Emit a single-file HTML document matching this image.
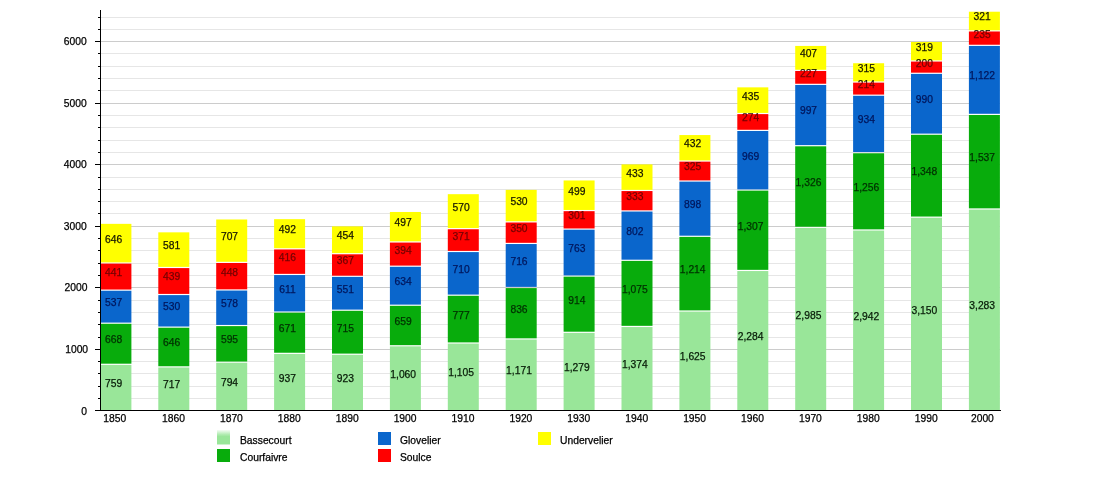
<!DOCTYPE html>
<html><head><meta charset="utf-8"><title>Population</title>
<style>
html,body{margin:0;padding:0;background:#fff;}
body{width:1100px;height:500px;overflow:hidden;}
svg{display:block;will-change:transform;}
text{font-family:"Liberation Sans",sans-serif;font-size:10.3px;fill:#000;stroke:#000;stroke-width:0.25px;}
.v text{fill:inherit;stroke:inherit;}
</style></head><body>
<svg width="1100" height="500" viewBox="0 0 1100 500">
<rect x="0" y="0" width="1100" height="500" fill="#ffffff"/>
<g shape-rendering="crispEdges">
<rect x="101" y="398" width="899" height="1" fill="#e6e6e6"/>
<rect x="101" y="386" width="899" height="1" fill="#e6e6e6"/>
<rect x="101" y="373" width="899" height="1" fill="#e6e6e6"/>
<rect x="101" y="361" width="899" height="1" fill="#e6e6e6"/>
<rect x="101" y="349" width="899" height="1" fill="#cccccc"/>
<rect x="101" y="337" width="899" height="1" fill="#e6e6e6"/>
<rect x="101" y="324" width="899" height="1" fill="#e6e6e6"/>
<rect x="101" y="312" width="899" height="1" fill="#e6e6e6"/>
<rect x="101" y="300" width="899" height="1" fill="#e6e6e6"/>
<rect x="101" y="287" width="899" height="1" fill="#cccccc"/>
<rect x="101" y="275" width="899" height="1" fill="#e6e6e6"/>
<rect x="101" y="263" width="899" height="1" fill="#e6e6e6"/>
<rect x="101" y="250" width="899" height="1" fill="#e6e6e6"/>
<rect x="101" y="238" width="899" height="1" fill="#e6e6e6"/>
<rect x="101" y="226" width="899" height="1" fill="#cccccc"/>
<rect x="101" y="213" width="899" height="1" fill="#e6e6e6"/>
<rect x="101" y="201" width="899" height="1" fill="#e6e6e6"/>
<rect x="101" y="189" width="899" height="1" fill="#e6e6e6"/>
<rect x="101" y="177" width="899" height="1" fill="#e6e6e6"/>
<rect x="101" y="164" width="899" height="1" fill="#cccccc"/>
<rect x="101" y="152" width="899" height="1" fill="#e6e6e6"/>
<rect x="101" y="140" width="899" height="1" fill="#e6e6e6"/>
<rect x="101" y="127" width="899" height="1" fill="#e6e6e6"/>
<rect x="101" y="115" width="899" height="1" fill="#e6e6e6"/>
<rect x="101" y="103" width="899" height="1" fill="#cccccc"/>
<rect x="101" y="90" width="899" height="1" fill="#e6e6e6"/>
<rect x="101" y="78" width="899" height="1" fill="#e6e6e6"/>
<rect x="101" y="66" width="899" height="1" fill="#e6e6e6"/>
<rect x="101" y="53" width="899" height="1" fill="#e6e6e6"/>
<rect x="101" y="41" width="899" height="1" fill="#cccccc"/>
<rect x="101" y="29" width="899" height="1" fill="#e6e6e6"/>
<rect x="101" y="17" width="899" height="1" fill="#e6e6e6"/>
</g>
<g>
<rect x="100.40" y="364.89" width="31" height="45.11" fill="#99e699"/>
<rect x="100.40" y="323.78" width="31" height="39.91" fill="#08ac0c"/>
<rect x="100.40" y="290.74" width="31" height="31.85" fill="#0a66cc"/>
<rect x="100.40" y="263.60" width="31" height="25.94" fill="#ff0000"/>
<rect x="100.40" y="223.85" width="31" height="38.55" fill="#ffff00"/>
<rect x="158.30" y="367.48" width="31" height="42.52" fill="#99e699"/>
<rect x="158.30" y="327.72" width="31" height="38.55" fill="#08ac0c"/>
<rect x="158.30" y="295.11" width="31" height="31.42" fill="#0a66cc"/>
<rect x="158.30" y="268.09" width="31" height="25.82" fill="#ff0000"/>
<rect x="158.30" y="232.34" width="31" height="34.55" fill="#ffff00"/>
<rect x="216.20" y="362.74" width="31" height="47.26" fill="#99e699"/>
<rect x="216.20" y="326.12" width="31" height="35.42" fill="#08ac0c"/>
<rect x="216.20" y="290.55" width="31" height="34.37" fill="#0a66cc"/>
<rect x="216.20" y="262.98" width="31" height="26.37" fill="#ff0000"/>
<rect x="216.20" y="219.48" width="31" height="42.31" fill="#ffff00"/>
<rect x="274.10" y="353.94" width="31" height="56.06" fill="#99e699"/>
<rect x="274.10" y="312.65" width="31" height="40.09" fill="#08ac0c"/>
<rect x="274.10" y="275.05" width="31" height="36.40" fill="#0a66cc"/>
<rect x="274.10" y="249.45" width="31" height="24.40" fill="#ff0000"/>
<rect x="274.10" y="219.17" width="31" height="29.08" fill="#ffff00"/>
<rect x="332.00" y="354.80" width="31" height="55.20" fill="#99e699"/>
<rect x="332.00" y="310.80" width="31" height="42.80" fill="#08ac0c"/>
<rect x="332.00" y="276.89" width="31" height="32.71" fill="#0a66cc"/>
<rect x="332.00" y="254.31" width="31" height="21.38" fill="#ff0000"/>
<rect x="332.00" y="226.37" width="31" height="26.74" fill="#ffff00"/>
<rect x="389.90" y="346.37" width="31" height="63.63" fill="#99e699"/>
<rect x="389.90" y="305.82" width="31" height="39.35" fill="#08ac0c"/>
<rect x="389.90" y="266.80" width="31" height="37.82" fill="#0a66cc"/>
<rect x="389.90" y="242.55" width="31" height="23.05" fill="#ff0000"/>
<rect x="389.90" y="211.97" width="31" height="29.38" fill="#ffff00"/>
<rect x="447.80" y="343.60" width="31" height="66.40" fill="#99e699"/>
<rect x="447.80" y="295.78" width="31" height="46.62" fill="#08ac0c"/>
<rect x="447.80" y="252.09" width="31" height="42.49" fill="#0a66cc"/>
<rect x="447.80" y="229.26" width="31" height="21.63" fill="#ff0000"/>
<rect x="447.80" y="194.18" width="31" height="33.88" fill="#ffff00"/>
<rect x="505.70" y="339.54" width="31" height="70.46" fill="#99e699"/>
<rect x="505.70" y="288.09" width="31" height="50.25" fill="#08ac0c"/>
<rect x="505.70" y="244.03" width="31" height="42.86" fill="#0a66cc"/>
<rect x="505.70" y="222.49" width="31" height="20.34" fill="#ff0000"/>
<rect x="505.70" y="189.88" width="31" height="31.42" fill="#ffff00"/>
<rect x="563.60" y="332.89" width="31" height="77.11" fill="#99e699"/>
<rect x="563.60" y="276.65" width="31" height="55.05" fill="#08ac0c"/>
<rect x="563.60" y="229.69" width="31" height="45.75" fill="#0a66cc"/>
<rect x="563.60" y="211.17" width="31" height="17.32" fill="#ff0000"/>
<rect x="563.60" y="180.46" width="31" height="29.51" fill="#ffff00"/>
<rect x="621.50" y="327.05" width="31" height="82.95" fill="#99e699"/>
<rect x="621.50" y="260.89" width="31" height="64.95" fill="#08ac0c"/>
<rect x="621.50" y="211.54" width="31" height="48.15" fill="#0a66cc"/>
<rect x="621.50" y="191.05" width="31" height="19.29" fill="#ff0000"/>
<rect x="621.50" y="164.40" width="31" height="25.45" fill="#ffff00"/>
<rect x="679.40" y="311.60" width="31" height="98.40" fill="#99e699"/>
<rect x="679.40" y="236.89" width="31" height="73.51" fill="#08ac0c"/>
<rect x="679.40" y="181.63" width="31" height="54.06" fill="#0a66cc"/>
<rect x="679.40" y="161.63" width="31" height="18.80" fill="#ff0000"/>
<rect x="679.40" y="135.05" width="31" height="25.38" fill="#ffff00"/>
<rect x="737.30" y="271.05" width="31" height="138.95" fill="#99e699"/>
<rect x="737.30" y="190.62" width="31" height="79.23" fill="#08ac0c"/>
<rect x="737.30" y="130.98" width="31" height="58.43" fill="#0a66cc"/>
<rect x="737.30" y="114.12" width="31" height="15.66" fill="#ff0000"/>
<rect x="737.30" y="87.35" width="31" height="25.57" fill="#ffff00"/>
<rect x="795.20" y="227.91" width="31" height="182.09" fill="#99e699"/>
<rect x="795.20" y="146.31" width="31" height="80.40" fill="#08ac0c"/>
<rect x="795.20" y="84.95" width="31" height="60.15" fill="#0a66cc"/>
<rect x="795.20" y="70.98" width="31" height="12.77" fill="#ff0000"/>
<rect x="795.20" y="45.94" width="31" height="23.85" fill="#ffff00"/>
<rect x="853.10" y="230.55" width="31" height="179.45" fill="#99e699"/>
<rect x="853.10" y="153.26" width="31" height="76.09" fill="#08ac0c"/>
<rect x="853.10" y="95.78" width="31" height="56.28" fill="#0a66cc"/>
<rect x="853.10" y="82.62" width="31" height="11.97" fill="#ff0000"/>
<rect x="853.10" y="63.23" width="31" height="18.18" fill="#ffff00"/>
<rect x="911.00" y="217.75" width="31" height="192.25" fill="#99e699"/>
<rect x="911.00" y="134.80" width="31" height="81.75" fill="#08ac0c"/>
<rect x="911.00" y="73.88" width="31" height="59.72" fill="#0a66cc"/>
<rect x="911.00" y="61.57" width="31" height="11.11" fill="#ff0000"/>
<rect x="911.00" y="41.94" width="31" height="18.43" fill="#ffff00"/>
<rect x="968.90" y="209.57" width="31" height="200.43" fill="#99e699"/>
<rect x="968.90" y="114.98" width="31" height="93.38" fill="#08ac0c"/>
<rect x="968.90" y="45.94" width="31" height="67.85" fill="#0a66cc"/>
<rect x="968.90" y="31.48" width="31" height="13.26" fill="#ff0000"/>
<rect x="968.90" y="11.72" width="31" height="18.55" fill="#ffff00"/>
</g>
<g shape-rendering="crispEdges" fill="#000">
<rect x="100" y="10" width="1" height="401"/>
<rect x="95" y="410" width="906" height="1"/>
<rect x="98" y="398" width="2" height="1"/>
<rect x="98" y="386" width="2" height="1"/>
<rect x="98" y="373" width="2" height="1"/>
<rect x="98" y="361" width="2" height="1"/>
<rect x="95" y="349" width="5" height="1"/>
<rect x="98" y="337" width="2" height="1"/>
<rect x="98" y="324" width="2" height="1"/>
<rect x="98" y="312" width="2" height="1"/>
<rect x="98" y="300" width="2" height="1"/>
<rect x="95" y="287" width="5" height="1"/>
<rect x="98" y="275" width="2" height="1"/>
<rect x="98" y="263" width="2" height="1"/>
<rect x="98" y="250" width="2" height="1"/>
<rect x="98" y="238" width="2" height="1"/>
<rect x="95" y="226" width="5" height="1"/>
<rect x="98" y="213" width="2" height="1"/>
<rect x="98" y="201" width="2" height="1"/>
<rect x="98" y="189" width="2" height="1"/>
<rect x="98" y="177" width="2" height="1"/>
<rect x="95" y="164" width="5" height="1"/>
<rect x="98" y="152" width="2" height="1"/>
<rect x="98" y="140" width="2" height="1"/>
<rect x="98" y="127" width="2" height="1"/>
<rect x="98" y="115" width="2" height="1"/>
<rect x="95" y="103" width="5" height="1"/>
<rect x="98" y="90" width="2" height="1"/>
<rect x="98" y="78" width="2" height="1"/>
<rect x="98" y="66" width="2" height="1"/>
<rect x="98" y="53" width="2" height="1"/>
<rect x="95" y="41" width="5" height="1"/>
<rect x="98" y="29" width="2" height="1"/>
<rect x="98" y="17" width="2" height="1"/>
</g>
<g text-anchor="end">
<text x="87.1" y="415.4">0</text>
<text x="88.1" y="353.1">1000</text>
<text x="87.4" y="291.4">2000</text>
<text x="86.7" y="230.1">3000</text>
<text x="86.7" y="168.1">4000</text>
<text x="86.7" y="107.1">5000</text>
<text x="86.7" y="45.1">6000</text>
</g>
<g text-anchor="middle">
<text x="114.8" y="421.8">1850</text>
<text x="173.5" y="421.8">1860</text>
<text x="231.4" y="421.8">1870</text>
<text x="289.3" y="421.8">1880</text>
<text x="347.2" y="421.8">1890</text>
<text x="405.1" y="421.8">1900</text>
<text x="463.0" y="421.8">1910</text>
<text x="520.9" y="421.8">1920</text>
<text x="578.8" y="421.8">1930</text>
<text x="636.7" y="421.8">1940</text>
<text x="694.6" y="421.8">1950</text>
<text x="752.5" y="421.8">1960</text>
<text x="810.4" y="421.8">1970</text>
<text x="868.3" y="421.8">1980</text>
<text x="926.2" y="421.8">1990</text>
<text x="982.4" y="421.8">2000</text>
</g>
<defs><clipPath id="c0_0"><rect x="96.40" y="364.39" width="39" height="46.71"/></clipPath><clipPath id="c0_1"><rect x="96.40" y="323.28" width="39" height="41.11"/></clipPath><clipPath id="c0_2"><rect x="96.40" y="290.24" width="39" height="33.05"/></clipPath><clipPath id="c0_3"><rect x="96.40" y="263.10" width="39" height="27.14"/></clipPath><clipPath id="c0_4"><rect x="96.40" y="223.35" width="39" height="39.75"/></clipPath><clipPath id="c1_0"><rect x="154.30" y="366.98" width="39" height="44.12"/></clipPath><clipPath id="c1_1"><rect x="154.30" y="327.22" width="39" height="39.75"/></clipPath><clipPath id="c1_2"><rect x="154.30" y="294.61" width="39" height="32.62"/></clipPath><clipPath id="c1_3"><rect x="154.30" y="267.59" width="39" height="27.02"/></clipPath><clipPath id="c1_4"><rect x="154.30" y="231.84" width="39" height="35.75"/></clipPath><clipPath id="c2_0"><rect x="212.20" y="362.24" width="39" height="48.86"/></clipPath><clipPath id="c2_1"><rect x="212.20" y="325.62" width="39" height="36.62"/></clipPath><clipPath id="c2_2"><rect x="212.20" y="290.05" width="39" height="35.57"/></clipPath><clipPath id="c2_3"><rect x="212.20" y="262.48" width="39" height="27.57"/></clipPath><clipPath id="c2_4"><rect x="212.20" y="218.98" width="39" height="43.51"/></clipPath><clipPath id="c3_0"><rect x="270.10" y="353.44" width="39" height="57.66"/></clipPath><clipPath id="c3_1"><rect x="270.10" y="312.15" width="39" height="41.29"/></clipPath><clipPath id="c3_2"><rect x="270.10" y="274.55" width="39" height="37.60"/></clipPath><clipPath id="c3_3"><rect x="270.10" y="248.95" width="39" height="25.60"/></clipPath><clipPath id="c3_4"><rect x="270.10" y="218.67" width="39" height="30.28"/></clipPath><clipPath id="c4_0"><rect x="328.00" y="354.30" width="39" height="56.80"/></clipPath><clipPath id="c4_1"><rect x="328.00" y="310.30" width="39" height="44.00"/></clipPath><clipPath id="c4_2"><rect x="328.00" y="276.39" width="39" height="33.91"/></clipPath><clipPath id="c4_3"><rect x="328.00" y="253.81" width="39" height="22.58"/></clipPath><clipPath id="c4_4"><rect x="328.00" y="225.87" width="39" height="27.94"/></clipPath><clipPath id="c5_0"><rect x="385.90" y="345.87" width="39" height="65.23"/></clipPath><clipPath id="c5_1"><rect x="385.90" y="305.32" width="39" height="40.55"/></clipPath><clipPath id="c5_2"><rect x="385.90" y="266.30" width="39" height="39.02"/></clipPath><clipPath id="c5_3"><rect x="385.90" y="242.05" width="39" height="24.25"/></clipPath><clipPath id="c5_4"><rect x="385.90" y="211.47" width="39" height="30.58"/></clipPath><clipPath id="c6_0"><rect x="443.80" y="343.10" width="39" height="68.00"/></clipPath><clipPath id="c6_1"><rect x="443.80" y="295.28" width="39" height="47.82"/></clipPath><clipPath id="c6_2"><rect x="443.80" y="251.59" width="39" height="43.69"/></clipPath><clipPath id="c6_3"><rect x="443.80" y="228.76" width="39" height="22.83"/></clipPath><clipPath id="c6_4"><rect x="443.80" y="193.68" width="39" height="35.08"/></clipPath><clipPath id="c7_0"><rect x="501.70" y="339.04" width="39" height="72.06"/></clipPath><clipPath id="c7_1"><rect x="501.70" y="287.59" width="39" height="51.45"/></clipPath><clipPath id="c7_2"><rect x="501.70" y="243.53" width="39" height="44.06"/></clipPath><clipPath id="c7_3"><rect x="501.70" y="221.99" width="39" height="21.54"/></clipPath><clipPath id="c7_4"><rect x="501.70" y="189.38" width="39" height="32.62"/></clipPath><clipPath id="c8_0"><rect x="559.60" y="332.39" width="39" height="78.71"/></clipPath><clipPath id="c8_1"><rect x="559.60" y="276.15" width="39" height="56.25"/></clipPath><clipPath id="c8_2"><rect x="559.60" y="229.19" width="39" height="46.95"/></clipPath><clipPath id="c8_3"><rect x="559.60" y="210.67" width="39" height="18.52"/></clipPath><clipPath id="c8_4"><rect x="559.60" y="179.96" width="39" height="30.71"/></clipPath><clipPath id="c9_0"><rect x="617.50" y="326.55" width="39" height="84.55"/></clipPath><clipPath id="c9_1"><rect x="617.50" y="260.39" width="39" height="66.15"/></clipPath><clipPath id="c9_2"><rect x="617.50" y="211.04" width="39" height="49.35"/></clipPath><clipPath id="c9_3"><rect x="617.50" y="190.55" width="39" height="20.49"/></clipPath><clipPath id="c9_4"><rect x="617.50" y="163.90" width="39" height="26.65"/></clipPath><clipPath id="c10_0"><rect x="675.40" y="311.10" width="39" height="100.00"/></clipPath><clipPath id="c10_1"><rect x="675.40" y="236.39" width="39" height="74.71"/></clipPath><clipPath id="c10_2"><rect x="675.40" y="181.13" width="39" height="55.26"/></clipPath><clipPath id="c10_3"><rect x="675.40" y="161.13" width="39" height="20.00"/></clipPath><clipPath id="c10_4"><rect x="675.40" y="134.55" width="39" height="26.58"/></clipPath><clipPath id="c11_0"><rect x="733.30" y="270.55" width="39" height="140.55"/></clipPath><clipPath id="c11_1"><rect x="733.30" y="190.12" width="39" height="80.43"/></clipPath><clipPath id="c11_2"><rect x="733.30" y="130.48" width="39" height="59.63"/></clipPath><clipPath id="c11_3"><rect x="733.30" y="113.62" width="39" height="16.86"/></clipPath><clipPath id="c11_4"><rect x="733.30" y="86.85" width="39" height="26.77"/></clipPath><clipPath id="c12_0"><rect x="791.20" y="227.41" width="39" height="183.69"/></clipPath><clipPath id="c12_1"><rect x="791.20" y="145.81" width="39" height="81.60"/></clipPath><clipPath id="c12_2"><rect x="791.20" y="84.45" width="39" height="61.35"/></clipPath><clipPath id="c12_3"><rect x="791.20" y="70.48" width="39" height="13.97"/></clipPath><clipPath id="c12_4"><rect x="791.20" y="45.44" width="39" height="25.05"/></clipPath><clipPath id="c13_0"><rect x="849.10" y="230.05" width="39" height="181.05"/></clipPath><clipPath id="c13_1"><rect x="849.10" y="152.76" width="39" height="77.29"/></clipPath><clipPath id="c13_2"><rect x="849.10" y="95.28" width="39" height="57.48"/></clipPath><clipPath id="c13_3"><rect x="849.10" y="82.12" width="39" height="13.17"/></clipPath><clipPath id="c13_4"><rect x="849.10" y="62.73" width="39" height="19.38"/></clipPath><clipPath id="c14_0"><rect x="907.00" y="217.25" width="39" height="193.85"/></clipPath><clipPath id="c14_1"><rect x="907.00" y="134.30" width="39" height="82.95"/></clipPath><clipPath id="c14_2"><rect x="907.00" y="73.38" width="39" height="60.92"/></clipPath><clipPath id="c14_3"><rect x="907.00" y="61.07" width="39" height="12.31"/></clipPath><clipPath id="c14_4"><rect x="907.00" y="41.44" width="39" height="19.63"/></clipPath><clipPath id="c15_0"><rect x="964.90" y="209.07" width="39" height="202.03"/></clipPath><clipPath id="c15_1"><rect x="964.90" y="114.48" width="39" height="94.58"/></clipPath><clipPath id="c15_2"><rect x="964.90" y="45.44" width="39" height="69.05"/></clipPath><clipPath id="c15_3"><rect x="964.90" y="30.98" width="39" height="14.46"/></clipPath><clipPath id="c15_4"><rect x="964.90" y="11.22" width="39" height="19.75"/></clipPath></defs>
<g text-anchor="middle" class="v">
<g clip-path="url(#c0_0)" fill="#081c08" stroke="#081c08"><text x="113.7" y="387.0">759</text><text x="113.7" y="343.1">668</text></g>
<g clip-path="url(#c0_1)" fill="#003000" stroke="#003000"><text x="113.7" y="387.0">759</text><text x="113.7" y="343.1">668</text><text x="113.7" y="306.1">537</text></g>
<g clip-path="url(#c0_2)" fill="#00165c" stroke="#00165c"><text x="113.7" y="343.1">668</text><text x="113.7" y="306.1">537</text><text x="113.7" y="276.0">441</text></g>
<g clip-path="url(#c0_3)" fill="#740000" stroke="#740000"><text x="113.7" y="306.1">537</text><text x="113.7" y="276.0">441</text><text x="113.7" y="242.5">646</text></g>
<g clip-path="url(#c0_4)" fill="#181800" stroke="#181800"><text x="113.7" y="276.0">441</text><text x="113.7" y="242.5">646</text></g>
<g clip-path="url(#c1_0)" fill="#081c08" stroke="#081c08"><text x="171.6" y="388.3">717</text><text x="171.6" y="346.4">646</text></g>
<g clip-path="url(#c1_1)" fill="#003000" stroke="#003000"><text x="171.6" y="388.3">717</text><text x="171.6" y="346.4">646</text><text x="171.6" y="310.2">530</text></g>
<g clip-path="url(#c1_2)" fill="#00165c" stroke="#00165c"><text x="171.6" y="346.4">646</text><text x="171.6" y="310.2">530</text><text x="171.6" y="280.4">439</text></g>
<g clip-path="url(#c1_3)" fill="#740000" stroke="#740000"><text x="171.6" y="310.2">530</text><text x="171.6" y="280.4">439</text><text x="171.6" y="249.0">581</text></g>
<g clip-path="url(#c1_4)" fill="#181800" stroke="#181800"><text x="171.6" y="280.4">439</text><text x="171.6" y="249.0">581</text></g>
<g clip-path="url(#c2_0)" fill="#081c08" stroke="#081c08"><text x="229.5" y="386.0">794</text><text x="229.5" y="343.2">595</text></g>
<g clip-path="url(#c2_1)" fill="#003000" stroke="#003000"><text x="229.5" y="386.0">794</text><text x="229.5" y="343.2">595</text><text x="229.5" y="307.1">578</text></g>
<g clip-path="url(#c2_2)" fill="#00165c" stroke="#00165c"><text x="229.5" y="343.2">595</text><text x="229.5" y="307.1">578</text><text x="229.5" y="275.6">448</text></g>
<g clip-path="url(#c2_3)" fill="#740000" stroke="#740000"><text x="229.5" y="307.1">578</text><text x="229.5" y="275.6">448</text><text x="229.5" y="240.0">707</text></g>
<g clip-path="url(#c2_4)" fill="#181800" stroke="#181800"><text x="229.5" y="275.6">448</text><text x="229.5" y="240.0">707</text></g>
<g clip-path="url(#c3_0)" fill="#081c08" stroke="#081c08"><text x="287.4" y="381.6">937</text><text x="287.4" y="332.1">671</text></g>
<g clip-path="url(#c3_1)" fill="#003000" stroke="#003000"><text x="287.4" y="381.6">937</text><text x="287.4" y="332.1">671</text><text x="287.4" y="292.6">611</text></g>
<g clip-path="url(#c3_2)" fill="#00165c" stroke="#00165c"><text x="287.4" y="332.1">671</text><text x="287.4" y="292.6">611</text><text x="287.4" y="261.0">416</text></g>
<g clip-path="url(#c3_3)" fill="#740000" stroke="#740000"><text x="287.4" y="292.6">611</text><text x="287.4" y="261.0">416</text><text x="287.4" y="233.1">492</text></g>
<g clip-path="url(#c3_4)" fill="#181800" stroke="#181800"><text x="287.4" y="261.0">416</text><text x="287.4" y="233.1">492</text></g>
<g clip-path="url(#c4_0)" fill="#081c08" stroke="#081c08"><text x="345.3" y="382.0">923</text><text x="345.3" y="331.6">715</text></g>
<g clip-path="url(#c4_1)" fill="#003000" stroke="#003000"><text x="345.3" y="382.0">923</text><text x="345.3" y="331.6">715</text><text x="345.3" y="292.6">551</text></g>
<g clip-path="url(#c4_2)" fill="#00165c" stroke="#00165c"><text x="345.3" y="331.6">715</text><text x="345.3" y="292.6">551</text><text x="345.3" y="264.4">367</text></g>
<g clip-path="url(#c4_3)" fill="#740000" stroke="#740000"><text x="345.3" y="292.6">551</text><text x="345.3" y="264.4">367</text><text x="345.3" y="239.1">454</text></g>
<g clip-path="url(#c4_4)" fill="#181800" stroke="#181800"><text x="345.3" y="264.4">367</text><text x="345.3" y="239.1">454</text></g>
<g clip-path="url(#c5_0)" fill="#081c08" stroke="#081c08"><text x="403.2" y="377.8">1,060</text><text x="403.2" y="324.9">659</text></g>
<g clip-path="url(#c5_1)" fill="#003000" stroke="#003000"><text x="403.2" y="377.8">1,060</text><text x="403.2" y="324.9">659</text><text x="403.2" y="285.1">634</text></g>
<g clip-path="url(#c5_2)" fill="#00165c" stroke="#00165c"><text x="403.2" y="324.9">659</text><text x="403.2" y="285.1">634</text><text x="403.2" y="253.5">394</text></g>
<g clip-path="url(#c5_3)" fill="#740000" stroke="#740000"><text x="403.2" y="285.1">634</text><text x="403.2" y="253.5">394</text><text x="403.2" y="226.1">497</text></g>
<g clip-path="url(#c5_4)" fill="#181800" stroke="#181800"><text x="403.2" y="253.5">394</text><text x="403.2" y="226.1">497</text></g>
<g clip-path="url(#c6_0)" fill="#081c08" stroke="#081c08"><text x="461.1" y="376.4">1,105</text><text x="461.1" y="318.5">777</text></g>
<g clip-path="url(#c6_1)" fill="#003000" stroke="#003000"><text x="461.1" y="376.4">1,105</text><text x="461.1" y="318.5">777</text><text x="461.1" y="272.7">710</text></g>
<g clip-path="url(#c6_2)" fill="#00165c" stroke="#00165c"><text x="461.1" y="318.5">777</text><text x="461.1" y="272.7">710</text><text x="461.1" y="239.5">371</text></g>
<g clip-path="url(#c6_3)" fill="#740000" stroke="#740000"><text x="461.1" y="272.7">710</text><text x="461.1" y="239.5">371</text><text x="461.1" y="210.5">570</text></g>
<g clip-path="url(#c6_4)" fill="#181800" stroke="#181800"><text x="461.1" y="239.5">371</text><text x="461.1" y="210.5">570</text></g>
<g clip-path="url(#c7_0)" fill="#081c08" stroke="#081c08"><text x="519.0" y="374.4">1,171</text><text x="519.0" y="312.6">836</text></g>
<g clip-path="url(#c7_1)" fill="#003000" stroke="#003000"><text x="519.0" y="374.4">1,171</text><text x="519.0" y="312.6">836</text><text x="519.0" y="264.9">716</text></g>
<g clip-path="url(#c7_2)" fill="#00165c" stroke="#00165c"><text x="519.0" y="312.6">836</text><text x="519.0" y="264.9">716</text><text x="519.0" y="232.1">350</text></g>
<g clip-path="url(#c7_3)" fill="#740000" stroke="#740000"><text x="519.0" y="264.9">716</text><text x="519.0" y="232.1">350</text><text x="519.0" y="205.0">530</text></g>
<g clip-path="url(#c7_4)" fill="#181800" stroke="#181800"><text x="519.0" y="232.1">350</text><text x="519.0" y="205.0">530</text></g>
<g clip-path="url(#c8_0)" fill="#081c08" stroke="#081c08"><text x="576.9" y="371.0">1,279</text><text x="576.9" y="303.6">914</text></g>
<g clip-path="url(#c8_1)" fill="#003000" stroke="#003000"><text x="576.9" y="371.0">1,279</text><text x="576.9" y="303.6">914</text><text x="576.9" y="252.0">763</text></g>
<g clip-path="url(#c8_2)" fill="#00165c" stroke="#00165c"><text x="576.9" y="303.6">914</text><text x="576.9" y="252.0">763</text><text x="576.9" y="219.2">301</text></g>
<g clip-path="url(#c8_3)" fill="#740000" stroke="#740000"><text x="576.9" y="252.0">763</text><text x="576.9" y="219.2">301</text><text x="576.9" y="194.6">499</text></g>
<g clip-path="url(#c8_4)" fill="#181800" stroke="#181800"><text x="576.9" y="219.2">301</text><text x="576.9" y="194.6">499</text></g>
<g clip-path="url(#c9_0)" fill="#081c08" stroke="#081c08"><text x="634.8" y="368.1">1,374</text><text x="634.8" y="292.8">1,075</text></g>
<g clip-path="url(#c9_1)" fill="#003000" stroke="#003000"><text x="634.8" y="368.1">1,374</text><text x="634.8" y="292.8">1,075</text><text x="634.8" y="235.0">802</text></g>
<g clip-path="url(#c9_2)" fill="#00165c" stroke="#00165c"><text x="634.8" y="292.8">1,075</text><text x="634.8" y="235.0">802</text><text x="634.8" y="200.1">333</text></g>
<g clip-path="url(#c9_3)" fill="#740000" stroke="#740000"><text x="634.8" y="235.0">802</text><text x="634.8" y="200.1">333</text><text x="634.8" y="176.5">433</text></g>
<g clip-path="url(#c9_4)" fill="#181800" stroke="#181800"><text x="634.8" y="200.1">333</text><text x="634.8" y="176.5">433</text></g>
<g clip-path="url(#c10_0)" fill="#081c08" stroke="#081c08"><text x="692.7" y="360.4">1,625</text><text x="692.7" y="273.0">1,214</text></g>
<g clip-path="url(#c10_1)" fill="#003000" stroke="#003000"><text x="692.7" y="360.4">1,625</text><text x="692.7" y="273.0">1,214</text><text x="692.7" y="208.1">898</text></g>
<g clip-path="url(#c10_2)" fill="#00165c" stroke="#00165c"><text x="692.7" y="273.0">1,214</text><text x="692.7" y="208.1">898</text><text x="692.7" y="170.4">325</text></g>
<g clip-path="url(#c10_3)" fill="#740000" stroke="#740000"><text x="692.7" y="208.1">898</text><text x="692.7" y="170.4">325</text><text x="692.7" y="147.1">432</text></g>
<g clip-path="url(#c10_4)" fill="#181800" stroke="#181800"><text x="692.7" y="170.4">325</text><text x="692.7" y="147.1">432</text></g>
<g clip-path="url(#c11_0)" fill="#081c08" stroke="#081c08"><text x="750.6" y="340.1">2,284</text><text x="750.6" y="229.6">1,307</text></g>
<g clip-path="url(#c11_1)" fill="#003000" stroke="#003000"><text x="750.6" y="340.1">2,284</text><text x="750.6" y="229.6">1,307</text><text x="750.6" y="159.6">969</text></g>
<g clip-path="url(#c11_2)" fill="#00165c" stroke="#00165c"><text x="750.6" y="229.6">1,307</text><text x="750.6" y="159.6">969</text><text x="750.6" y="121.4">274</text></g>
<g clip-path="url(#c11_3)" fill="#740000" stroke="#740000"><text x="750.6" y="159.6">969</text><text x="750.6" y="121.4">274</text><text x="750.6" y="99.5">435</text></g>
<g clip-path="url(#c11_4)" fill="#181800" stroke="#181800"><text x="750.6" y="121.4">274</text><text x="750.6" y="99.5">435</text></g>
<g clip-path="url(#c12_0)" fill="#081c08" stroke="#081c08"><text x="808.5" y="318.6">2,985</text><text x="808.5" y="185.9">1,326</text></g>
<g clip-path="url(#c12_1)" fill="#003000" stroke="#003000"><text x="808.5" y="318.6">2,985</text><text x="808.5" y="185.9">1,326</text><text x="808.5" y="114.4">997</text></g>
<g clip-path="url(#c12_2)" fill="#00165c" stroke="#00165c"><text x="808.5" y="185.9">1,326</text><text x="808.5" y="114.4">997</text><text x="808.5" y="76.8">227</text></g>
<g clip-path="url(#c12_3)" fill="#740000" stroke="#740000"><text x="808.5" y="114.4">997</text><text x="808.5" y="76.8">227</text><text x="808.5" y="57.3">407</text></g>
<g clip-path="url(#c12_4)" fill="#181800" stroke="#181800"><text x="808.5" y="76.8">227</text><text x="808.5" y="57.3">407</text></g>
<g clip-path="url(#c13_0)" fill="#081c08" stroke="#081c08"><text x="866.4" y="319.9">2,942</text><text x="866.4" y="190.7">1,256</text></g>
<g clip-path="url(#c13_1)" fill="#003000" stroke="#003000"><text x="866.4" y="319.9">2,942</text><text x="866.4" y="190.7">1,256</text><text x="866.4" y="123.3">934</text></g>
<g clip-path="url(#c13_2)" fill="#00165c" stroke="#00165c"><text x="866.4" y="190.7">1,256</text><text x="866.4" y="123.3">934</text><text x="866.4" y="88.0">214</text></g>
<g clip-path="url(#c13_3)" fill="#740000" stroke="#740000"><text x="866.4" y="123.3">934</text><text x="866.4" y="88.0">214</text><text x="866.4" y="71.7">315</text></g>
<g clip-path="url(#c13_4)" fill="#181800" stroke="#181800"><text x="866.4" y="88.0">214</text><text x="866.4" y="71.7">315</text></g>
<g clip-path="url(#c14_0)" fill="#081c08" stroke="#081c08"><text x="924.3" y="313.5">3,150</text><text x="924.3" y="175.1">1,348</text></g>
<g clip-path="url(#c14_1)" fill="#003000" stroke="#003000"><text x="924.3" y="313.5">3,150</text><text x="924.3" y="175.1">1,348</text><text x="924.3" y="103.1">990</text></g>
<g clip-path="url(#c14_2)" fill="#00165c" stroke="#00165c"><text x="924.3" y="175.1">1,348</text><text x="924.3" y="103.1">990</text><text x="924.3" y="66.5">200</text></g>
<g clip-path="url(#c14_3)" fill="#740000" stroke="#740000"><text x="924.3" y="103.1">990</text><text x="924.3" y="66.5">200</text><text x="924.3" y="50.6">319</text></g>
<g clip-path="url(#c14_4)" fill="#181800" stroke="#181800"><text x="924.3" y="66.5">200</text><text x="924.3" y="50.6">319</text></g>
<g clip-path="url(#c15_0)" fill="#081c08" stroke="#081c08"><text x="982.2" y="309.4">3,283</text><text x="982.2" y="161.1">1,537</text></g>
<g clip-path="url(#c15_1)" fill="#003000" stroke="#003000"><text x="982.2" y="309.4">3,283</text><text x="982.2" y="161.1">1,537</text><text x="982.2" y="79.3">1,122</text></g>
<g clip-path="url(#c15_2)" fill="#00165c" stroke="#00165c"><text x="982.2" y="161.1">1,537</text><text x="982.2" y="79.3">1,122</text><text x="982.2" y="37.5">235</text></g>
<g clip-path="url(#c15_3)" fill="#740000" stroke="#740000"><text x="982.2" y="79.3">1,122</text><text x="982.2" y="37.5">235</text><text x="982.2" y="20.4">321</text></g>
<g clip-path="url(#c15_4)" fill="#181800" stroke="#181800"><text x="982.2" y="37.5">235</text><text x="982.2" y="20.4">321</text></g>
</g>
<defs><linearGradient id="lg" x1="0" y1="0" x2="0" y2="1"><stop offset="0" stop-color="#99e699" stop-opacity="0.1"/><stop offset="0.3" stop-color="#99e699" stop-opacity="0.75"/><stop offset="0.45" stop-color="#99e699" stop-opacity="1"/></linearGradient></defs>
<g>
<rect x="217" y="430" width="13" height="14.5" fill="url(#lg)"/>
<text x="240" y="443.7">Bassecourt</text>
<rect x="217" y="449" width="13" height="13" fill="#08ac0c" shape-rendering="crispEdges"/>
<text x="240" y="460.7">Courfaivre</text>
<rect x="378" y="432" width="13" height="13" fill="#0a66cc" shape-rendering="crispEdges"/>
<text x="400" y="443.7">Glovelier</text>
<rect x="378" y="449" width="13" height="13" fill="#ff0000" shape-rendering="crispEdges"/>
<text x="400" y="460.7">Soulce</text>
<rect x="538" y="432" width="13" height="13" fill="#ffff00" shape-rendering="crispEdges"/>
<text x="560" y="443.7">Undervelier</text>
</g>
</svg>
</body></html>
